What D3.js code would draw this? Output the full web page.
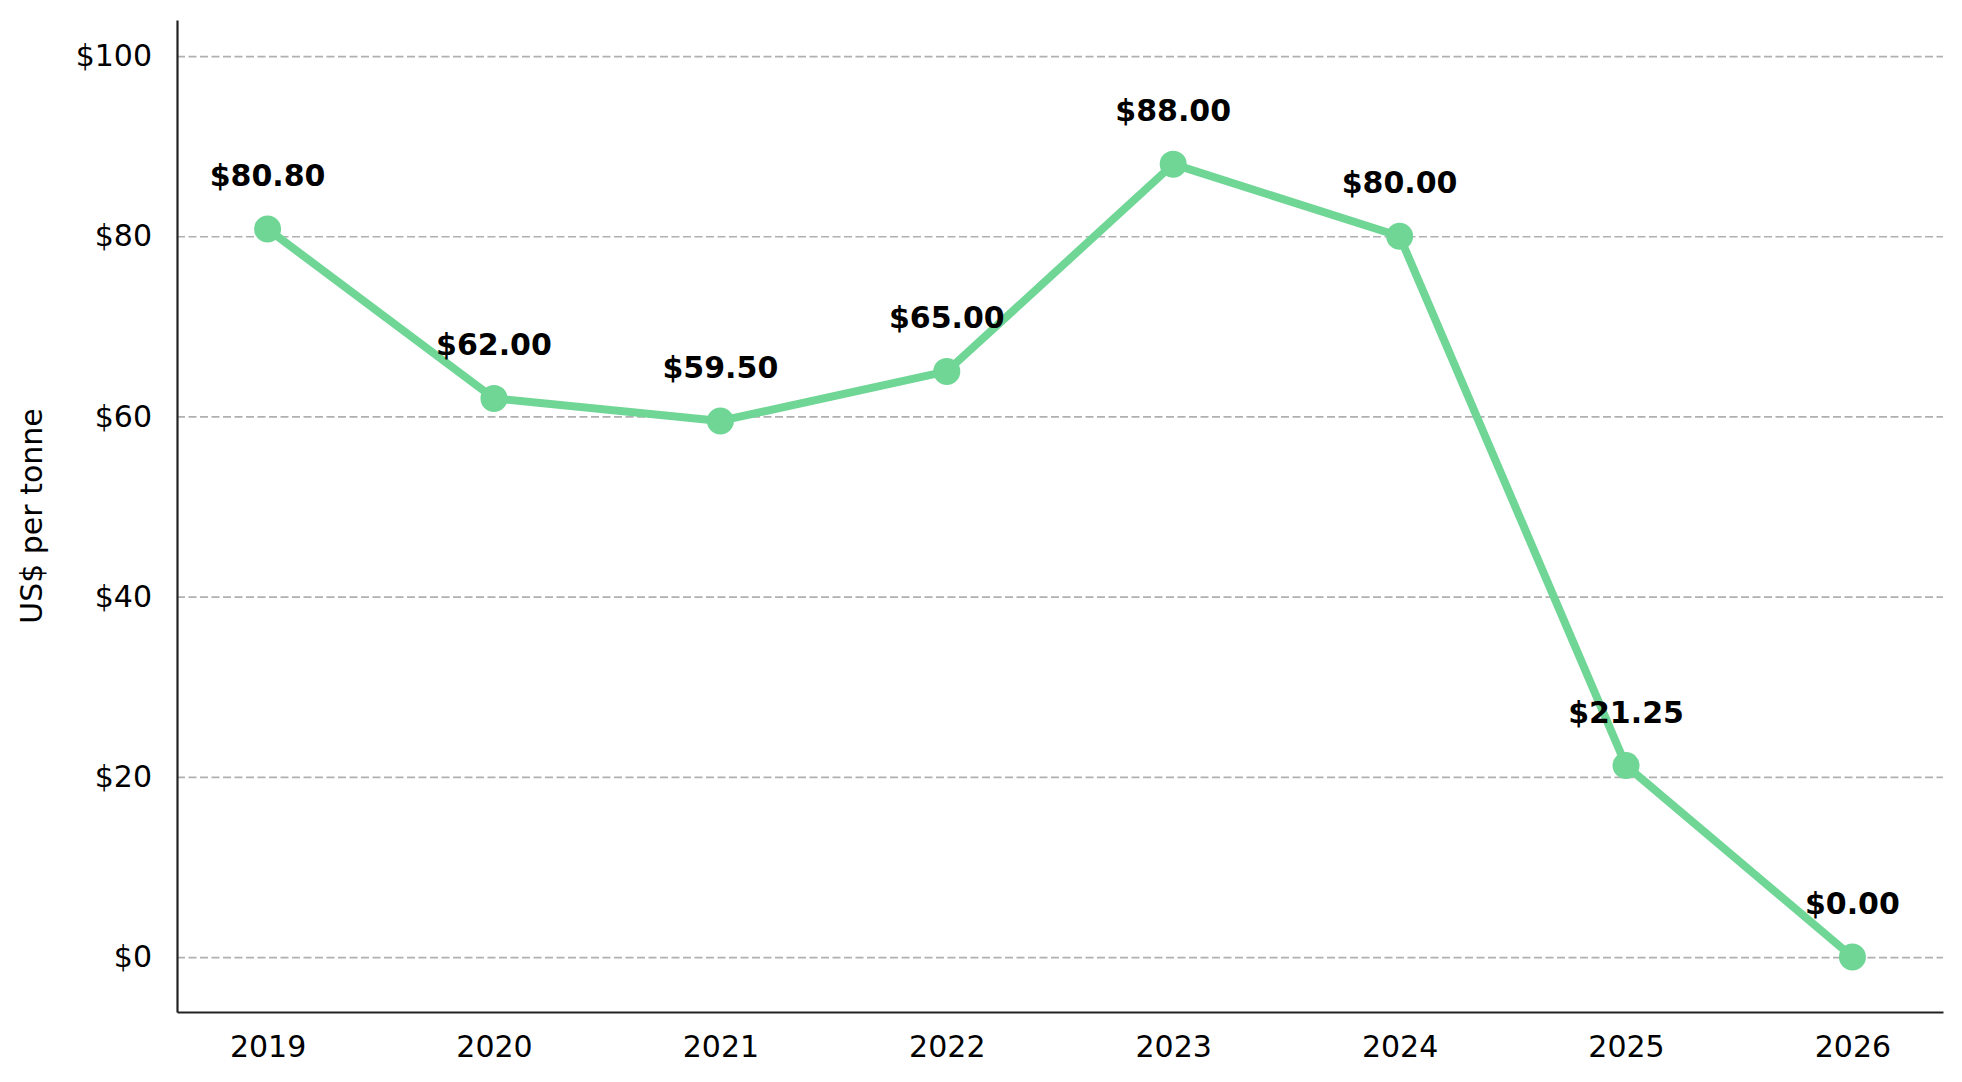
<!DOCTYPE html>
<html>
<head>
<meta charset="utf-8">
<script src="https://cdn.jsdelivr.net/npm/d3@7"></script>
<style>
  body { margin: 0; background: #fff; }
  svg { display: block; font-family: 'DejaVu Sans', sans-serif; }
  .grid line { stroke: #b0b0b0; stroke-width: 1.7; stroke-dasharray: 8,3.5; }
  .grid path { display: none; }
  .axes path { stroke: #222; stroke-width: 2.2; }
  .axes text { fill: #000; font-size: 30px; font-family: 'DejaVu Sans', sans-serif; }
</style>
</head>
<body>
<script>
const years = ['2019', '2020', '2021', '2022', '2023', '2024', '2025', '2026'];
const prices = [80.80, 62.00, 59.50, 65.00, 88.00, 80.00, 21.25, 0.00];
const yTicks = [0, 20, 40, 60, 80, 100];
const yLabel = 'US$ per tonne';

const W = 1962, H = 1082,
    margin = { top: 20, right: 19, bottom: 70, left: 177 },
    width = W - margin.left - margin.right,
    height = H - margin.top - margin.bottom;

const data = years.map((y, i) => ({ year: y, i: i, value: prices[i] }));

const xScale = d3.scaleLinear()
    .domain([-0.4, years.length - 1 + 0.4])
    .range([0, width]);
const yScale = d3.scaleLinear()
    .domain([-6.1, 104])
    .range([height, 0]);

const svg = d3.select('body').append('svg')
    .attr('width', W)
    .attr('height', H)
    .append('g')
    .attr('transform', 'translate(' + margin.left + ',' + margin.top + ')');

// gridlines
svg.append('g')
    .attr('class', 'grid')
    .call(d3.axisLeft(yScale).tickValues(yTicks).tickSize(-width).tickFormat(''));

// axes (no tick marks)
svg.append('g')
    .attr('class', 'axes')
    .attr('transform', 'translate(0,' + height + ')')
    .call(d3.axisBottom(xScale).tickValues(d3.range(years.length))
        .tickFormat(i => years[i]).tickSize(0).tickPadding(24).tickSizeOuter(0));
svg.append('g')
    .attr('class', 'axes')
    .call(d3.axisLeft(yScale).tickValues(yTicks)
        .tickFormat(d => '$' + d).tickSize(0).tickPadding(25).tickSizeOuter(0));

// y label
svg.append('text')
    .attr('transform', 'translate(' + (42 - margin.left) + ',' + (height / 2) + ') rotate(-90)')
    .style('text-anchor', 'middle')
    .style('font-size', '30px')
    .text(yLabel);

// line
const line = d3.line()
    .x(d => xScale(d.i))
    .y(d => yScale(d.value));

svg.append('path')
    .datum(data)
    .attr('d', line)
    .attr('fill', 'none')
    .attr('stroke', '#6fd696')
    .attr('stroke-width', 8)
    .attr('stroke-linejoin', 'round');

svg.selectAll('.dot')
    .data(data)
    .enter()
    .append('circle')
    .attr('class', 'dot')
    .attr('cx', d => xScale(d.i))
    .attr('cy', d => yScale(d.value))
    .attr('r', 13.5)
    .attr('fill', '#6fd696');

svg.selectAll('.value')
    .data(data)
    .enter()
    .append('text')
    .attr('class', 'value')
    .attr('x', d => xScale(d.i))
    .attr('y', d => yScale(d.value) - 43)
    .style('text-anchor', 'middle')
    .style('font-size', '30px')
    .style('font-weight', 'bold')
    .text(d => '$' + d.value.toFixed(2));
</script>
</body>
</html>
